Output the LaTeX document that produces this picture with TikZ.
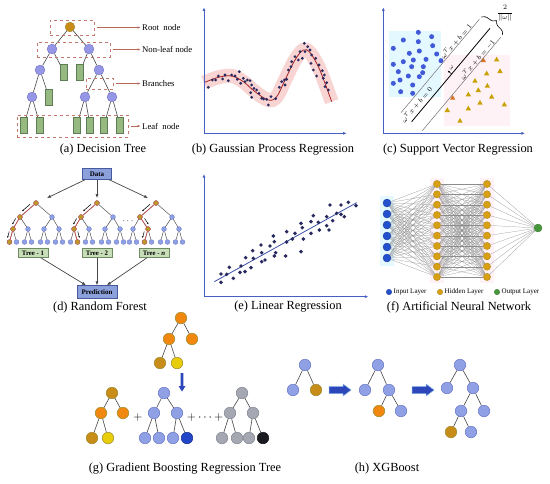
\documentclass[tikz,border=0pt]{standalone}
\usepackage{fontspec}
\setmainfont{Liberation Serif}
\usetikzlibrary{arrows.meta,decorations.pathreplacing,calc}
\definecolor{axisB}{RGB}{70,95,195}
\definecolor{edgeC}{RGB}{70,70,70}
\definecolor{lavF}{RGB}{143,160,228}
\definecolor{lavD}{RGB}{105,120,200}
\definecolor{dtcF}{RGB}{150,150,230}
\definecolor{dtcD}{RGB}{110,110,195}
\definecolor{oraF}{RGB}{240,135,15}
\definecolor{oliF}{RGB}{200,140,25}
\definecolor{yelF}{RGB}{232,205,10}
\definecolor{gryF}{RGB}{165,168,178}
\definecolor{gryD}{RGB}{130,133,145}
\definecolor{blkF}{RGB}{25,25,32}
\definecolor{dbF}{RGB}{35,70,200}
\definecolor{warmD}{RGB}{160,140,50}
\definecolor{leafF}{RGB}{150,185,130}
\definecolor{leafD}{RGB}{95,125,85}
\definecolor{boxR}{RGB}{195,120,105}
\definecolor{lblR}{RGB}{185,105,90}
\definecolor{dotN}{RGB}{40,42,95}
\definecolor{bandP}{RGB}{248,212,210}
\definecolor{curveR}{RGB}{165,35,35}
\definecolor{svB}{RGB}{65,90,215}
\definecolor{svT}{RGB}{200,160,0}
\definecolor{svR}{RGB}{215,115,40}
\definecolor{cyanBg}{RGB}{228,248,255}
\definecolor{pinkBg}{RGB}{255,242,246}
\definecolor{rfH}{RGB}{185,155,40}
\definecolor{rfP}{RGB}{205,75,75}
\definecolor{dataF}{RGB}{140,160,220}
\definecolor{dataD}{RGB}{70,90,160}
\definecolor{treeF}{RGB}{200,222,185}
\definecolor{treeD}{RGB}{110,140,100}
\definecolor{annI}{RGB}{35,80,205}
\definecolor{annH}{RGB}{215,160,20}
\definecolor{annO}{RGB}{70,150,60}
\definecolor{annL}{RGB}{140,140,140}
\definecolor{arrB}{RGB}{45,70,185}
\definecolor{arrE}{RGB}{120,170,230}

\newcommand\rftree[2]{%
  \node[rfn] (#1r) at (#2,203) {};
  \node[rfn] (#1a) at ({#2-16},217) {};
  \node[rfn] (#1b) at ({#2+16},217) {};
  \node[rfn] (#1c1) at ({#2-23},229) {};
  \node[rfn] (#1c2) at ({#2-8},229) {};
  \node[rfn] (#1c3) at ({#2+8},229) {};
  \node[rfn] (#1c4) at ({#2+23},229) {};
  \node[rfn] (#1d1) at ({#2-26.5},242) {};
  \node[rfn] (#1d2) at ({#2-19.5},242) {};
  \node[rfn] (#1d3) at ({#2-11.5},242) {};
  \node[rfn] (#1d4) at ({#2-4.5},242) {};
  \node[rfn] (#1d5) at ({#2+4.5},242) {};
  \node[rfn] (#1d6) at ({#2+11.5},242) {};
  \node[rfn] (#1d7) at ({#2+19.5},242) {};
  \node[rfn] (#1d8) at ({#2+26.5},242) {};
  \draw[rfe] (#1r)--(#1a) (#1r)--(#1b) (#1a)--(#1c1) (#1a)--(#1c2) (#1b)--(#1c3) (#1b)--(#1c4)
    (#1c1)--(#1d1) (#1c1)--(#1d2) (#1c2)--(#1d3) (#1c2)--(#1d4) (#1c3)--(#1d5) (#1c3)--(#1d6)
    (#1c4)--(#1d7) (#1c4)--(#1d8);
}
\newcommand\rfpe[3]{%
  \draw[rfpath] (#1)--(#2);
  \draw[rfarr] ($(#1)!0.25!(#2)!3pt!#3:(#2)$) -- ($(#1)!0.75!(#2)!3pt!#3:(#2)$);
}

\begin{document}
\begin{tikzpicture}[x=1pt,y=-1pt,
  capt/.style={font=\fontsize{12.4}{14}\selectfont, inner sep=0pt},
  edg/.style={draw=edgeC, line width=0.6pt},
  dtroot/.style={circle, fill=oliF, draw=warmD, line width=0.4pt, inner sep=0pt, minimum size=9.8pt},
  dtc/.style={circle, fill=dtcF, draw=dtcD, line width=0.4pt, inner sep=0pt, minimum size=9.8pt},
  dtl/.style={rectangle, fill=leafF, draw=leafD, line width=0.4pt, inner sep=0pt, minimum width=7.3pt, minimum height=16pt},
  dbox/.style={draw=boxR, dashed, line width=0.6pt, inner sep=0pt, fill=none},
  lbl/.style={font=\fontsize{8.7}{10}\selectfont, inner sep=0pt, anchor=west},
  lblarrow/.style={draw=lblR, line width=0.7pt, -{Latex[length=3pt,width=2.6pt]}, shorten <=3pt, shorten >=1.5pt},
  axis/.style={draw=axisB, line width=0.8pt, -{Latex[length=3.5pt,width=3pt]}},
  gpdot/.style={fill=dotN},
  rfn/.style={circle, fill=lavF, draw=lavD, line width=0.3pt, inner sep=0pt, minimum size=4.8pt},
  rfh/.style={circle, fill=rfH, draw=rfP, line width=0.4pt, inner sep=0pt, minimum size=4.8pt},
  rfe/.style={draw=edgeC, line width=0.45pt},
  rfpath/.style={draw=rfP, line width=0.6pt},
  rfarr/.style={draw=black, line width=0.5pt, -{Latex[length=1.8pt,width=1.6pt]}},
  rfa/.style={draw=edgeC, line width=0.7pt, -{Latex[length=4pt,width=3.2pt]}},
  databox/.style={rectangle, fill=dataF, draw=dataD, line width=0.5pt, inner sep=0pt, font=\fontsize{7}{8}\selectfont\bfseries},
  treebox/.style={rectangle, fill=treeF, draw=treeD, line width=0.5pt, inner sep=0pt, minimum width=30pt, minimum height=9pt, font=\fontsize{6.8}{8}\selectfont\bfseries},
  annin/.style={circle, fill=annI, draw=annI!70!black, line width=0.3pt, inner sep=0pt, minimum size=8pt},
  annhid/.style={circle, fill=annH, draw=annH!80!black, line width=0.3pt, inner sep=0pt, minimum size=7.3pt},
  annout/.style={circle, fill=annO, draw=annO!80!black, line width=0.3pt, inner sep=0pt, minimum size=8pt},
  annl/.style={draw=annL, line width=0.2pt},
  lg/.style={font=\fontsize{7}{8}\selectfont, inner sep=0pt, anchor=west},
  svl/.style={font=\fontsize{6.8}{8}\selectfont, rotate=50, inner sep=0pt},
  gn/.style={circle, line width=0.5pt, inner sep=0pt, minimum size=11.6pt},
  nLav/.style={gn, fill=lavF, draw=lavD},
  nOra/.style={gn, fill=oraF, draw=warmD},
  nOli/.style={gn, fill=oliF, draw=warmD},
  nYel/.style={gn, fill=yelF, draw=warmD},
  nGry/.style={gn, fill=gryF, draw=gryD},
  nBlk/.style={gn, fill=blkF, draw=blkF},
  nDb/.style={gn, fill=dbF, draw=dbF!70!black},
  tedge/.style={draw=edgeC, line width=0.6pt}
]
\useasboundingbox (0,0) rectangle (550,483);
\fill[white] (0,0) rectangle (550,483);

%%%%%%%%%%%%%%%% (a) Decision tree
\node[dtroot] (aR) at (70,27) {};
\node[dtc] (aN1) at (52,49) {};
\node[dtc] (aN2) at (89,49) {};
\node[dtc] (aN3) at (40,70) {};
\node[dtl] (aL1) at (64,72) {};
\node[dtl] (aL2) at (80,72) {};
\node[dtc] (aN4) at (99,70) {};
\node[dtc] (aN5) at (32,97) {};
\node[dtl] (aL3) at (49,97) {};
\node[dtc] (aN6) at (85,97) {};
\node[dtc] (aN7) at (112,97) {};
\node[dtl] (aL4) at (24,125) {};
\node[dtl] (aL5) at (40,125) {};
\node[dtl] (aL6) at (77,125) {};
\node[dtl] (aL7) at (90,125) {};
\node[dtl] (aL8) at (104,125) {};
\node[dtl] (aL9) at (120,125) {};
\draw[edg] (aR)--(aN1) (aR)--(aN2) (aN1)--(aN3) (aN1)--(aL1) (aN2)--(aL2) (aN2)--(aN4)
  (aN3)--(aN5) (aN3)--(aL3) (aN4)--(aN6) (aN4)--(aN7) (aN5)--(aL4) (aN5)--(aL5)
  (aN6)--(aL6) (aN6)--(aL7) (aN7)--(aL8) (aN7)--(aL9);
\node[dbox, minimum width=44pt, minimum height=15pt] (bxRoot) at (72,27.5) {};
\node[dbox, minimum width=73pt, minimum height=15pt] (bxNon) at (73.5,49.5) {};
\node[dbox, minimum width=27pt, minimum height=11pt] (bxBr) at (99.5,83.5) {};
\node[dbox, minimum width=111pt, minimum height=22pt] (bxLeaf) at (72.5,126) {};
\node[lbl] (tRoot) at (142,27.5) {Root\enspace node};
\node[lbl] (tNon) at (142,49.5) {Non-leaf node};
\node[lbl] (tBr) at (142,83.5) {Branches};
\node[lbl] (tLeaf) at (142,126) {Leaf\enspace node};
\draw[lblarrow] (bxRoot.east) -- (tRoot.west);
\draw[lblarrow] (bxNon.east) -- (tNon.west);
\draw[lblarrow] (bxBr.east) -- (tBr.west);
\draw[lblarrow] (bxLeaf.east) -- (tLeaf.west);
\node[capt] (capA) at (103,150) {(a) Decision Tree};

%%%%%%%%%%%%%%%% (b) GPR
\begin{scope}[shift={(185,0)}, scale=1/3]
  \draw[bandP, line width=14pt, line cap=butt] plot[smooth, tension=0.6] coordinates
    {(57,248) (100,232) (140,228) (175,245) (210,275) (250,300) (275,290) (300,240) (330,180) (355,150) (375,158) (400,200) (420,250) (440,305)};
  \draw[curveR, line width=0.8pt] plot[smooth, tension=0.6] coordinates
    {(57,248) (100,232) (140,228) (175,245) (210,275) (250,300) (275,290) (300,240) (330,180) (355,150) (375,158) (400,200) (420,250) (440,305)};
  \foreach \x/\y in {70/262,82/240,92/240,100/228,113/237,120/225,130/242,140/225,150/228,157/238,163/215,167/250,175/235,180/245,187/240,195/242,200/255,207/265,197/278,200/292,215/270,222/280,230/295,236/297,245/298,250/315,258/290,272/296,283/262,290/245,298/240,305/238,300/255,310/210,318/200,320/185,330/170,340/180,345/155,352/175,358/130,360/155,368/140,375/150,380/165,378/190,385/210,392/175,395/228,402/195,412/212,415/235,418/225,420/260,425/248,430/270}
    \fill[gpdot] (\x,\y) circle (4.6);
  \draw[axis] (57,400) -- (57,22);
  \draw[axis] (57,400) -- (485,400);
\end{scope}
\node[capt] (capB) at (273,150) {(b) Gaussian Process Regression};

%%%%%%%%%%%%%%%% (c) SVR
\begin{scope}[shift={(370,0)}, scale=1/3]
  \fill[cyanBg] (58,92) rectangle (212,290);
  \fill[pinkBg] (222,165) rectangle (420,378);
  \foreach \x/\y in {145/97,185/110,100/120,145/125,70/145,188/137,148/153,118/160,200/162,100/185,130/180,168/178,213/182,70/193,160/200,85/215,125/200,148/230,115/228,90/240,70/250,158/218,128/255,92/275,128/280}
    \fill[svB] (\x,\y) circle (7.5);
  \foreach \x/\y in {380/178,350/220,390/213,315/242,352/257,325/270,295/283,365/290,330/308,295/325,403/313,232/330,270/362}
    \fill[svT] (\x,{\y-8}) -- ({\x-8},{\y+6}) -- ({\x+8},{\y+6}) -- cycle;
  \foreach \x/\y in {340/180,248/293}
    \fill[svR] (\x,{\y-8}) -- ({\x-8},{\y+6}) -- ({\x+8},{\y+6}) -- cycle;
  \draw[black!55, line width=0.5pt] (93,338) -- (328,58);
  \draw[black, line width=0.8pt] (125,365) -- (360,85);
  \draw[black!55, line width=0.5pt] (157,392) -- (392,112);
  \draw[decorate, decoration={brace, amplitude=7}, line width=0.6pt] (334,51) -- (398,105);
  \node[font=\fontsize{7.5}{9}\selectfont, inner sep=0pt] (svFrac) at (405,40) {$\displaystyle\frac{2}{\|\omega\|}$};
  \node[svl] (svL1) at (258,124) {$\omega^T x + b = 1$};
  \node[svl] (svL0) at (140,314) {$\omega^T x + b = 0$};
  \node[svl] (svL2) at (322,178) {$\omega^T x + b = -1$};
  \draw[black, line width=0.5pt, -{Latex[length=2pt,width=2pt]}] (245,222) -- (233,212);
  \node[font=\fontsize{6.5}{7}\selectfont, rotate=50, inner sep=0pt] (svW) at (244,202) {$\omega$};
  \draw[axis] (40,400) -- (40,22);
  \draw[axis] (40,400) -- (465,400);
\end{scope}
\node[capt] (capC) at (458,150) {(c) Support Vector Regression};

%%%%%%%%%%%%%%%% (d) Random forest
\node[databox, minimum width=29pt, minimum height=11pt] (dat) at (97,174) {Data};
\node[databox, minimum width=40pt, minimum height=13pt] (pred) at (97,292) {Prediction};
\rftree{Ta}{36}
\rftree{Tb}{97}
\rftree{Tc}{156}
\rfpe{Tar}{Taa}{-90}
\rfpe{Taa}{Tac1}{-90}
\rfpe{Tac1}{Tad1}{-90}
\rfpe{Tbr}{Tba}{-90}
\rfpe{Tba}{Tbc1}{-90}
\rfpe{Tbc1}{Tbd2}{90}
\rfpe{Tcr}{Tca}{-90}
\rfpe{Tca}{Tcc2}{90}
\rfpe{Tcc2}{Tcd3}{-90}
\foreach \n in {Tar,Taa,Tac1,Tad1,Tbr,Tba,Tbc1,Tbd2,Tcr,Tca,Tcc2,Tcd3}
  \node[rfh] (\n h) at (\n) {};
\node[font=\fontsize{9}{10}\selectfont, inner sep=0pt] (rfdots) at (128,221) {$\cdots$};
\coordinate (inA) at (47,198);
\coordinate (inB) at (97,198);
\coordinate (inC) at (148,198);
\draw[rfa] (dat) -- (inA);
\draw[rfa] (dat) -- (inB);
\draw[rfa] (dat) -- (inC);
\node[treebox] (tbA) at (33,253) {Tree - 1};
\node[treebox] (tbB) at (97,253) {Tree - 2};
\node[treebox] (tbC) at (154,253) {Tree - \textit{n}};
\draw[rfa] (tbA) -- (pred);
\draw[rfa] (tbB) -- (pred);
\draw[rfa] (tbC) -- (pred);
\node[capt] (capD) at (100,308) {(d) Random Forest};

%%%%%%%%%%%%%%%% (e) Linear regression
\begin{scope}[shift={(185,160)}, scale=1/3]
  \draw[axisB!85!black, line width=0.8pt] (88,365) -- (515,128);
  \foreach \x/\y in {108/342,108/367,125/343,133/322,145/355,168/318,165/337,180/335,182/293,198/323,203/272,205/295,228/255,230/305,240/300,230/278,255/258,265/228,268/245,272/278,268/288,305/215,305/246,302/288,322/237,330/220,348/190,348/275,352/203,355/237,378/185,378/220,385/167,400/187,403/210,425/170,425/197,432/210,435/135,443/182,455/160,468/135,468/163,478/170,490/127,513/137}
    \fill[gpdot] (\x,\y) circle (5.8);
  \draw[axis] (57,410) -- (57,42);
  \draw[axis] (57,410) -- (550,410);
\end{scope}
\node[capt] (capE) at (288,307) {(e) Linear Regression};

%%%%%%%%%%%%%%%% (f) ANN
\fill[cyanBg] (380,196) rectangle (394,266);
\fill[pinkBg] (430,178) rectangle (444,283);
\fill[pinkBg] (480,178) rectangle (494,283);
\foreach \k in {1,...,6} \node[annin] (i\k) at (387,{203+11*(\k-1)}) {};
\foreach \k in {1,...,10} {
  \node[annhid] (h\k) at (437,{184+10.33*(\k-1)}) {};
  \node[annhid] (g\k) at (487,{184+10.33*(\k-1)}) {};
}
\node[annout] (o) at (538,228) {};
\foreach \a in {1,...,6}{\foreach \b in {1,...,10}{\draw[annl] (i\a)--(h\b);}}
\foreach \a in {1,...,10}{\foreach \b in {1,...,10}{\draw[annl] (h\a)--(g\b);}}
\foreach \a in {1,...,10}{\draw[annl] (g\a)--(o);}
\node[annin, minimum size=5.5pt] (lg1) at (389,292) {};
\node[lg] (lg1t) at (393.5,292) {Input Layer};
\node[annhid, minimum size=5.5pt] (lg2) at (440,292) {};
\node[lg] (lg2t) at (444.5,292) {Hidden Layer};
\node[annout, minimum size=5.5pt] (lg3) at (497,292) {};
\node[lg] (lg3t) at (501.5,292) {Output Layer};
\node[capt] (capF) at (459,307) {(f) Artificial Neural Network};

%%%%%%%%%%%%%%%% (g) GBRT
\node[nOra] (gA) at (181,318) {};
\node[nOra] (gB) at (169,339) {};
\node[nOra] (gC) at (192,339) {};
\node[nOli] (gD) at (160,363) {};
\node[nYel] (gE) at (177,363) {};
\draw[tedge] (gA)--(gB) (gA)--(gC) (gB)--(gD) (gB)--(gE);
\fill[arrB] (180.6,373) rectangle (183.4,386) (178.5,386) -- (185.5,386) -- (182,391.5) -- cycle;
\node[nOli] (b1) at (112,393) {};
\node[nOra] (b2) at (101,413) {};
\node[nOra] (b3) at (123,413) {};
\node[nOli] (b4) at (92,438) {};
\node[nYel] (b5) at (108,438) {};
\draw[tedge] (b1)--(b2) (b1)--(b3) (b2)--(b4) (b2)--(b5);
\node[font=\fontsize{12}{14}\selectfont, inner sep=0pt] (plusA) at (138,417) {$+$};
\node[nLav] (c1) at (164,393) {};
\node[nLav] (c2) at (154,413) {};
\node[nLav] (c3) at (177,413) {};
\node[nLav] (c4) at (145,438) {};
\node[nLav] (c5) at (159,438) {};
\node[nLav] (c6) at (173,438) {};
\node[nDb] (c7) at (187,438) {};
\draw[tedge] (c1)--(c2) (c1)--(c3) (c2)--(c4) (c2)--(c5) (c3)--(c6) (c3)--(c7);
\node[font=\fontsize{12}{14}\selectfont, inner sep=0pt] (plusB) at (205,417) {$+\cdots+$};
\node[nGry] (d1) at (242,393) {};
\node[nGry] (d2) at (230,413) {};
\node[nGry] (d3) at (253,413) {};
\node[nGry] (d4) at (222,438) {};
\node[nGry] (d5) at (237,438) {};
\node[nGry] (d6) at (249,438) {};
\node[nBlk] (d7) at (263,438) {};
\draw[tedge] (d1)--(d2) (d1)--(d3) (d2)--(d4) (d2)--(d5) (d3)--(d6) (d3)--(d7);
\node[capt] (capG) at (185,469) {(g) Gradient Boosting Regression Tree};

%%%%%%%%%%%%%%%% (h) XGBoost
\node[nLav] (x1) at (305,365) {};
\node[nLav] (x2) at (293,390) {};
\node[nOli] (x3) at (316,390) {};
\draw[tedge] (x1)--(x2) (x1)--(x3);
\filldraw[fill=arrB, draw=arrE, line width=0.5pt] (329,386.5) -- (343,386.5) -- (343,384) -- (351,390) -- (343,396) -- (343,393.5) -- (329,393.5) -- cycle;
\node[nLav] (y1) at (378,365) {};
\node[nLav] (y2) at (365,390) {};
\node[nLav] (y3) at (389,390) {};
\node[nOra] (y4) at (379,411) {};
\node[nLav] (y5) at (401,411) {};
\draw[tedge] (y1)--(y2) (y1)--(y3) (y3)--(y4) (y3)--(y5);
\filldraw[fill=arrB, draw=arrE, line width=0.5pt] (412,386.5) -- (426,386.5) -- (426,384) -- (434,390) -- (426,396) -- (426,393.5) -- (412,393.5) -- cycle;
\node[nLav] (z1) at (460,365) {};
\node[nLav] (z2) at (447,388) {};
\node[nLav] (z3) at (473,388) {};
\node[nLav] (z4) at (461,411) {};
\node[nLav] (z5) at (484,411) {};
\node[nOli] (z6) at (451,432) {};
\node[nLav] (z7) at (471,432) {};
\draw[tedge] (z1)--(z2) (z1)--(z3) (z3)--(z4) (z3)--(z5) (z4)--(z6) (z4)--(z7);
\node[capt] (capH) at (387,469) {(h) XGBoost};
\end{tikzpicture}
\end{document}
